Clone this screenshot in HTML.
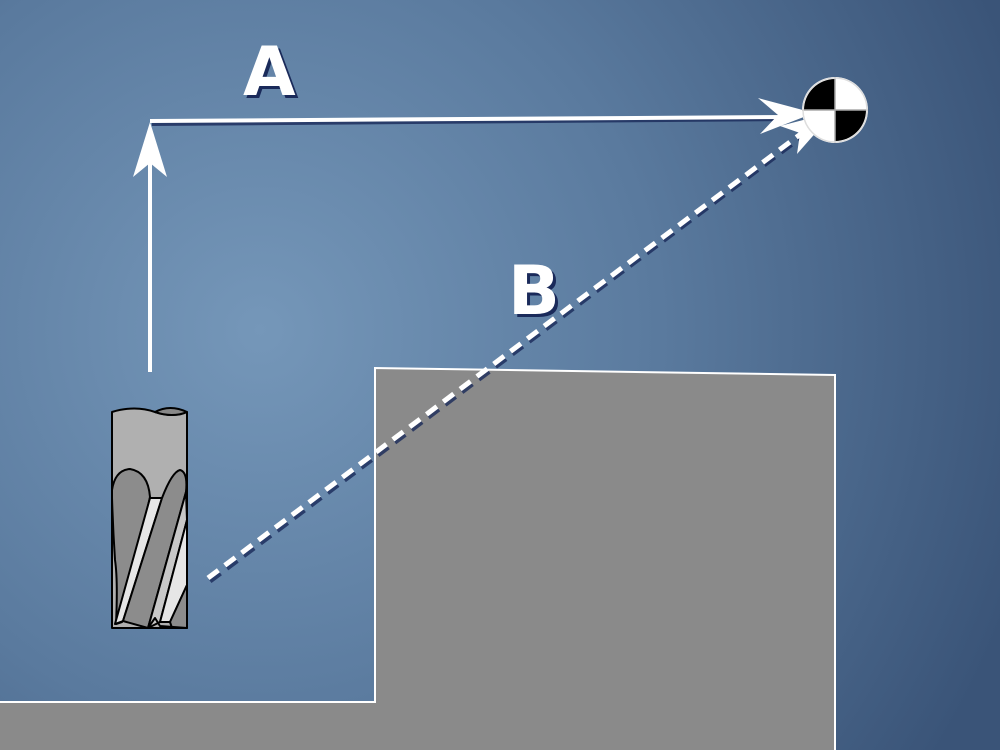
<!DOCTYPE html>
<html><head><style>html,body{margin:0;padding:0}body{width:1000px;height:750px;overflow:hidden}</style></head>
<body>
<svg width="1000" height="750" viewBox="0 0 1000 750" xmlns="http://www.w3.org/2000/svg">
<defs>
<radialGradient id="bg" cx="260" cy="330" r="800" gradientUnits="userSpaceOnUse">
<stop offset="0" stop-color="#7597b9"/>
<stop offset="0.5" stop-color="#5a7a9e"/>
<stop offset="1" stop-color="#3a5478"/>
</radialGradient>
</defs>
<rect width="1000" height="750" fill="url(#bg)"/>
<!-- block -->
<polygon points="0,702 375,702 375,368 835,375 835,752 0,752" fill="#8a8a8a"/>
<polyline points="0,702 375,702 375,368 835,375 835,752" fill="none" stroke="#ffffff" stroke-width="2"/>
<!-- shadows -->
<g stroke="#1a2a5a" opacity="0.8">
<line x1="152" y1="124" x2="790" y2="119" stroke-width="4"/>
<line x1="210" y1="581" x2="808" y2="132" stroke-width="5" stroke-dasharray="13,8"/>
</g>
<!-- vertical arrow -->
<line x1="150" y1="372" x2="150" y2="140" stroke="#fff" stroke-width="4"/>
<polygon points="150,122 167,177 150,163 133,177" fill="#fff"/>
<!-- horizontal -->
<line x1="150" y1="121" x2="790" y2="117" stroke="#fff" stroke-width="4"/>
<polygon points="814,113 758,98 778,115 760,134" fill="#fff"/>
<!-- dashed -->
<line x1="208" y1="578" x2="806" y2="130" stroke="#fff" stroke-width="5" stroke-dasharray="13,8"/>
<polygon points="834,112 780,126 800,133 797,154" fill="#fff"/>
<!-- target -->
<circle cx="835" cy="110" r="33" fill="#fff"/>
<path d="M835,110 L835,79 A31,31 0 0 0 804,110 Z" fill="#000"/>
<path d="M835,110 L866,110 A31,31 0 0 1 835,141 Z" fill="#000"/>
<line x1="835" y1="77" x2="835" y2="143" stroke="#aaa" stroke-width="1.5"/>
<line x1="802" y1="110" x2="868" y2="110" stroke="#aaa" stroke-width="1.5"/>
<circle cx="835" cy="110" r="32" fill="none" stroke="#ddd" stroke-width="1.5"/>
<!-- end mill -->
<g stroke="#000" stroke-width="2" stroke-linejoin="round">
<path d="M112,412 Q135,405 155,412 Q175,418 187,412 L187,628 L112,628 Z" fill="#b0b0b0"/>
<path d="M155,412 Q170,404 187,412 Q172,418 155,412 Z" fill="#888"/>
<path d="M112,498 L112,490 Q115,470 130,469 Q148,472 150,497 L122,622 L116,624 Q118,580 115,560 Q113,530 112,498 Z" fill="#8c8c8c"/>
<path d="M150,498 L162,498 L123,621 L115,624 Z" fill="#e6e6e6"/>
<path d="M162,498 Q172,472 180,470 Q188,472 186,492 L148,628 L123,621 Z" fill="#8c8c8c"/>
<path d="M186,492 L187,520 L160,622 L148,628 Z" fill="#c8c8c8"/>
<path d="M187,520 L187,585 L170,622 L160,622 Z" fill="#e6e6e6"/>
<path d="M187,585 L187,628 L172,628 L170,622 Z" fill="#8c8c8c"/>
<path d="M112,628 L148,628 L155,618 L160,626 L187,628" fill="none"/>
</g>
<!-- labels -->
<g font-family="DejaVu Sans, sans-serif" font-weight="bold" font-size="68">
<text x="246" y="98" fill="#1a2a5a">A</text>
<text x="243" y="95" fill="#fff">A</text>
<text x="511" y="317" fill="#1a2a5a">B</text>
<text x="508" y="314" fill="#fff">B</text>
</g>
</svg>
</body></html>
